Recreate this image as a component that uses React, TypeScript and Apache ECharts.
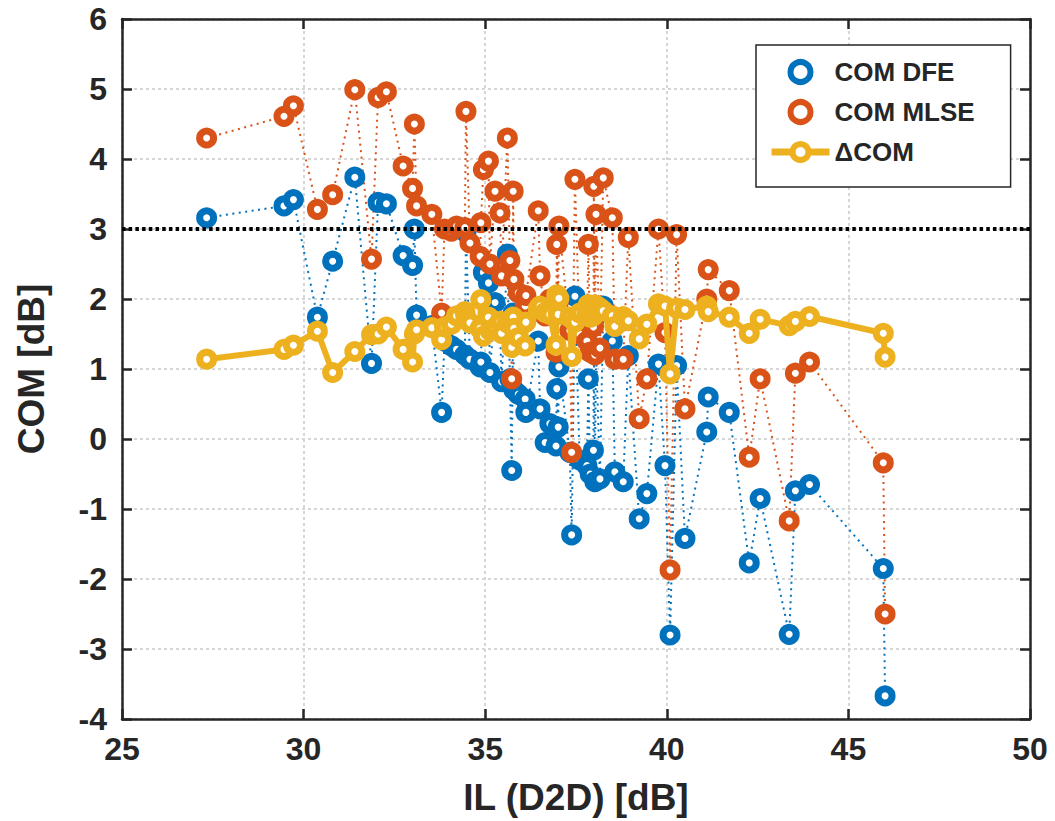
import { useEffect, useRef } from "react";
import * as echarts from "echarts";

// Insertion loss of each channel (die-to-die), sorted ascending
const ilDb = [
  27.33, 29.46, 29.72, 30.38, 30.8, 31.41, 31.87, 32.05, 32.28, 32.74,
  33.0, 33.05, 33.11, 33.53, 33.8, 33.88, 34.07, 34.21, 34.44, 34.47,
  34.58, 34.86, 34.88, 34.95, 35.09, 35.13, 35.27, 35.41, 35.45, 35.61,
  35.68, 35.73, 35.77, 35.79, 35.91, 36.1, 36.12, 36.46, 36.51, 36.65,
  36.78, 36.95, 36.97, 37.01, 37.03, 37.33, 37.38, 37.47, 37.6, 37.8,
  37.84, 37.89, 37.98, 37.99, 38.02, 38.05, 38.16, 38.25, 38.5, 38.57,
  38.8, 38.94, 39.24, 39.45, 39.77, 39.95, 40.09, 40.27, 40.5, 41.1,
  41.14, 41.72, 42.27, 42.57, 43.37, 43.54, 43.93, 45.96, 46.01,
];

// COM with a DFE receiver, per channel
const comDfe = [
  3.16, 3.33, 3.42, 1.74, 2.54, 3.74, 1.08, 3.38, 3.36, 2.62,
  2.48, 3.0, 1.77, 1.62, 0.38, 1.4, 1.33, 1.28, 1.2, 2.95,
  1.14, 1.03, 1.1, 2.38, 2.23, 0.95, 1.95, 1.55, 0.82, 2.64,
  0.86, -0.45, 1.8, 0.7, 0.64, 0.57, 0.38, 1.4, 0.43, -0.05,
  0.22, -0.1, 0.72, 0.17, 1.03, -0.19, -1.37, 2.04, -0.3, -0.38,
  0.86, -0.5, -0.16, 1.7, -0.61, 1.3, -0.57, 1.9, 1.4, -0.47,
  -0.61, 1.19, -1.14, -0.78, 1.07, -0.38, -2.8, 1.05, -1.42, 0.1,
  0.6, 0.38, -1.77, -0.85, -2.79, -0.74, -0.65, -1.85, -3.67,
];

// COM with an MLSE receiver, per channel
const comMlse = [
  4.3, 4.61, 4.76, 3.28, 3.49, 4.99, 2.57, 4.88, 4.96, 3.9,
  3.58, 4.5, 3.33, 3.21, 1.8, 3.0, 2.97, 3.04, 3.02, 4.68,
  2.8, 2.61, 3.09, 3.85, 3.97, 2.5, 3.54, 3.23, 2.33, 4.3,
  2.55, 0.86, 3.54, 2.28, 2.09, 1.9, 2.05, 3.26, 2.33, 1.76,
  2.0, 1.24, 2.78, 1.95, 3.04, 1.55, -0.19, 3.71, 1.5, 1.4,
  2.78, 1.24, 1.6, 3.61, 1.2, 3.21, 1.3, 3.73, 3.16, 1.14,
  1.14, 2.88, 0.29, 0.86, 3.0, 1.52, -1.87, 2.92, 0.43, 2.0,
  2.42, 2.12, -0.26, 0.86, -1.17, 0.94, 1.1, -0.34, -2.5,
];

// COM pass threshold
const comThreshold = 3;

const xTicks = { min: 25, max: 50, interval: 5 };
const yTicks = { min: -4, max: 6, interval: 1 };

const BLUE = "#0072BD";
const ORANGE = "#D95319";
const YELLOW = "#EDB120";
const INK = "#262626";
const FONT = "'Liberation Sans', Arial, Helvetica, sans-serif";

function App() {
  const ref = useRef<HTMLDivElement>(null);

  useEffect(() => {
    if (!ref.current) return;
    const chart = echarts.init(ref.current, undefined, { renderer: "svg" });

    const dfePts = ilDb.map((x, i) => [x, comDfe[i]]);
    const mlsePts = ilDb.map((x, i) => [x, comMlse[i]]);
    const deltaPts = ilDb.map((x, i) => [x, +(comMlse[i] - comDfe[i]).toFixed(2)]);

    const axisLine = { show: true, onZero: false, lineStyle: { color: INK, width: 2.5 } };
    const tick = { show: true, inside: true, length: 10, lineStyle: { color: INK, width: 2.5 } };
    const grid = { show: true, lineStyle: { color: "#d6d6d6", width: 2, type: [3, 3] as any } };
    const tickLabel = { fontSize: 32, fontWeight: "bold" as const, color: INK, fontFamily: FONT };
    const nameStyle = { fontSize: 37, fontWeight: "bold" as const, color: INK, fontFamily: FONT };

    // hollow ring markers joined by a dotted trace
    const ringSeries = (name: string, data: number[][], color: string) => ({
      name,
      type: "line",
      data,
      symbol: "circle",
      symbolSize: 14,
      showSymbol: true,
      itemStyle: { color: "#fff", borderColor: color, borderWidth: 7 },
      lineStyle: { color, width: 2, type: [2, 4.5] },
      emphasis: { disabled: true },
      z: 2,
    });

    chart.setOption({
      animation: false,
      backgroundColor: "#fff",
      grid: { left: 122, right: 25, top: 19, bottom: 100 },
      legend: {
        left: 756,
        top: 45,
        orient: "vertical",
        backgroundColor: "#fff",
        borderColor: INK,
        borderWidth: 1.5,
        padding: [14, 36, 22, 12],
        itemGap: 14,
        itemWidth: 58,
        itemHeight: 20,
        textStyle: { fontSize: 26, fontWeight: "bold", color: INK, fontFamily: FONT },
        data: [
          {
            name: "COM DFE",
            icon: "circle",
            itemStyle: { color: "#fff", borderColor: BLUE, borderWidth: 6 },
          },
          {
            name: "COM MLSE",
            icon: "circle",
            itemStyle: { color: "#fff", borderColor: ORANGE, borderWidth: 6 },
          },
          {
            name: "ΔCOM",
            itemStyle: { color: "#fff", borderColor: YELLOW, borderWidth: 6 },
            lineStyle: { color: YELLOW, width: 7 },
          },
        ],
      },
      xAxis: [
        {
          type: "value",
          position: "bottom",
          ...xTicks,
          axisLine,
          axisTick: tick,
          splitLine: grid,
          axisLabel: { ...tickLabel, margin: 14 },
          name: "IL (D2D) [dB]",
          nameLocation: "middle",
          nameGap: 60,
          nameTextStyle: nameStyle,
        },
        {
          type: "value",
          position: "top",
          ...xTicks,
          axisLine,
          axisTick: tick,
          splitLine: { show: false },
          axisLabel: { show: false },
        },
      ],
      yAxis: [
        {
          type: "value",
          position: "left",
          ...yTicks,
          axisLine,
          axisTick: tick,
          splitLine: grid,
          axisLabel: { ...tickLabel, margin: 15 },
          name: "COM [dB]",
          nameLocation: "middle",
          nameGap: 72,
          nameTextStyle: nameStyle,
        },
        {
          type: "value",
          position: "right",
          ...yTicks,
          axisLine,
          axisTick: tick,
          splitLine: { show: false },
          axisLabel: { show: false },
        },
      ],
      series: [
        ringSeries("COM DFE", dfePts, BLUE),
        ringSeries("COM MLSE", mlsePts, ORANGE),
        {
          name: "ΔCOM",
          type: "line",
          data: deltaPts,
          symbol: "circle",
          symbolSize: 14,
          itemStyle: { color: "#fff", borderColor: YELLOW, borderWidth: 7 },
          lineStyle: { color: YELLOW, width: 6 },
          emphasis: { disabled: true },
          z: 3,
        },
        {
          name: "threshold",
          type: "line",
          data: [
            [xTicks.min, comThreshold],
            [xTicks.max, comThreshold],
          ],
          symbol: "none",
          lineStyle: { color: "#000", width: 4, type: [3.5, 3.2] },
          emphasis: { disabled: true },
          z: 4,
        },
      ],
    });

    return () => chart.dispose();
  }, []);

  return (
    <div
      ref={ref}
      style={{ position: "fixed", left: 0, top: 0, width: 1055, height: 821 }}
    />
  );
}

export default App;
